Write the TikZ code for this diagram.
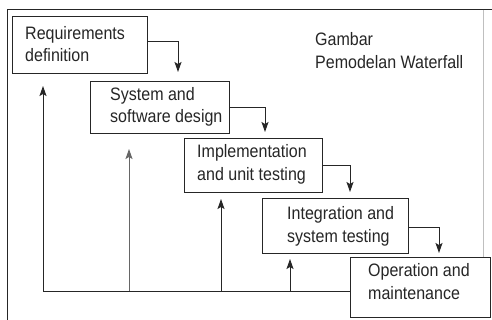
\documentclass[tikz,border=0pt]{standalone}
\usepackage{fontspec}
\setmainfont{Liberation Sans}[FakeStretch=0.89]
\usetikzlibrary{arrows.meta,calc}
\begin{document}
\begin{tikzpicture}[x=1pt,y=-1pt,
  every node/.style={font=\fontsize{18}{22.5}\selectfont},
  box/.style={draw=black!85, line width=1pt, anchor=north west, inner sep=0pt},
  txt/.style={anchor=west, align=left, inner sep=0pt, text=black!85},
  line/.style={draw=black!85, line width=1pt},
  arr/.style={line, -{Stealth[length=10pt,width=7pt,inset=2pt]}}]
\useasboundingbox (0,0) rectangle (492,320);
\fill[white] (0,0) rectangle (492,320);
% frame
\draw[line] (7,320) -- (7,10) -- (492,10);
\draw[black!25, line width=0.6pt] (483,10) -- (483,257);
% boxes
\node[box, minimum width=135pt, minimum height=57pt] (r) at (12,16) {};
\node[box, minimum width=139pt, minimum height=52pt] (s) at (90,81) {};
\node[box, minimum width=138pt, minimum height=54pt] (i) at (184,138) {};
\node[box, minimum width=146pt, minimum height=55pt] (t) at (262,198) {};
\node[box, minimum width=140pt, minimum height=60pt] (o) at (350,257) {};
% texts
\node[txt] (rt) at (25,44) {Requirements\\definition};
\node[txt] (st) at (110,107) {System and\\software design};
\node[txt] (it) at (197,164.5) {Implementation\\and unit testing};
\node[txt] (tt) at (287,226.5) {Integration and\\system testing};
\node[txt] (ot) at (368,281.5) {Operation and\\maintenance};
\node[txt] (g) at (315,50.5) {Gambar\\Pemodelan Waterfall};
% forward arrows
\draw[arr] ([yshift=3.5pt]r.east) -| ([xshift=88pt,yshift=9pt]s.north west);
\draw[arr] (s.east) -| ([xshift=81pt,yshift=6pt]i.north west);
\draw[arr] (i.east) -| ([xshift=88pt,yshift=6pt]t.north west);
\draw[arr] ([yshift=-1.5pt]t.east) -| ([xshift=89pt,yshift=4pt]o.north west);
% feedback
\coordinate (f1) at (43,291);
\coordinate (f2) at (129,291);
\coordinate (f3) at (221,291);
\coordinate (f4) at (290,291);
\draw[line] (f1) -- (o.west |- f1);
\draw[arr] (f1) -- ([yshift=-12pt]r.south -| f1);
\draw[arr, draw=black!60] (f2) -- ([yshift=-15pt]s.south -| f2);
\draw[arr] (f3) -- ([yshift=-6pt]i.south -| f3);
\draw[arr] (f4) -- ([yshift=-5pt]t.south -| f4);
\end{tikzpicture}
\end{document}
